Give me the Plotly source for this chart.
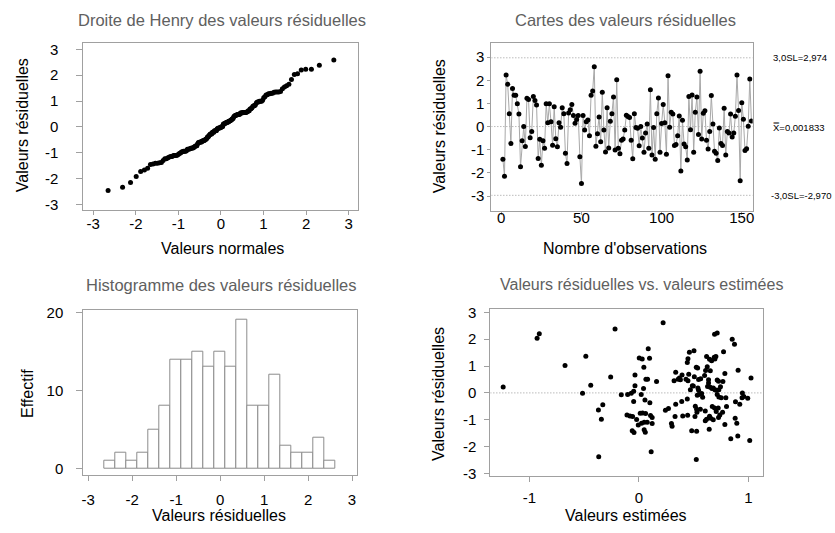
import plotly.graph_objects as go
from statistics import NormalDist

# ---------------- data ----------------
residuals = [
    -1.41, -2.15, 2.23, 1.83, 0.56, -0.73, 1.65, 1.35, 1.35, 0.99,
    0.54, -1.73, -0.61, 0.00, -0.86, 1.23, 1.17, -0.48, -0.21, 1.30,
    1.13, 0.93, -1.38, -0.55, -1.67, -0.61, -0.94, 0.99, 0.17, 0.99,
    0.21, -0.81, 0.86, -0.52, -0.87, 0.17, -0.03, 0.82, 0.56, -1.15,
    -1.60, 0.59, 0.73, 0.96, 0.48, 0.14, 0.31, 0.48, -1.30, -2.46,
    0.48, -0.15, 0.21, 0.28, -0.39, 1.35, 1.54, 2.59, -0.85, -0.31,
    0.42, -0.65, 1.48, -0.15, -1.10, 0.82, -0.92, 0.23, 0.56, 1.28,
    -1.01, 2.03, -0.94, -1.17, -0.59, -0.54, -0.15, 0.49, 0.44, 0.39,
    -0.59, -1.39, 0.56, -0.04, -0.07, -0.83, 0.00, -0.49, -1.11, -0.28,
    0.11, -0.94, 1.59, -1.23, -0.04, -1.41, 0.56, 1.24, -1.11, 0.13,
    0.96, 0.17, -1.20, 2.20, -0.03, 0.62, 0.54, -0.82, -0.77, -0.39,
    0.46, -1.92, 0.27, -0.75, -0.87, -1.44, 1.30, -0.14, 1.37, -1.11,
    0.62, 1.28, -0.34, 2.39, -0.54, 0.58, 0.69, -0.59, -0.97, -0.21,
    1.34, 0.11, -1.07, -1.15, -1.46, -0.06, -0.73, -0.82, 0.79, -1.23,
    -0.21, -0.28, 0.54, -0.45, -0.28, 0.45, 2.23, 0.70, -2.34, 1.03,
    0.32, -1.03, -0.96, 0.01, 2.06, 0.24,
]
observations = list(range(1, len(residuals) + 1))

ucl = 2.974
center = 0.001833
lcl = -2.970

hist_bin_centers = [-2.5, -2.25, -2.0, -1.75, -1.5, -1.25, -1.0, -0.75, -0.5, -0.25,
                    0.0, 0.25, 0.5, 0.75, 1.0, 1.25, 1.5, 1.75, 2.0, 2.25, 2.5]
hist_counts = [1, 2, 1, 2, 5, 8, 14, 14, 15, 13, 15, 13, 19, 8, 8, 12, 3, 2, 2, 4, 1]
hist_bin_width = 0.25

fitted = [
    -1.24, -0.93, -0.91, -0.675, -0.485, -0.44, -0.515, -0.218, -0.258, -0.33,
    -0.37, -0.343, -0.367,
    -0.161, -0.103, -0.070, -0.048, -0.036, -0.036, 0.003, 0.030, 0.085, 0.097,
    0.045, 0.064, 0.079, 0.161, 0.042, 0.021, 0.055, 0.100, -0.048, -0.109,
    -0.082, -0.058, -0.021, -0.006, 0.012, 0.033, 0.061, 0.106, 0.121, 0.024,
    0.048, 0.076, 0.121, -0.061, -0.045, 0.048, 0.058, 0.112, 0.221,
    0.242, 0.270, 0.297, 0.303, 0.330, 0.336, 0.391, 0.400, 0.445, 0.442,
    0.321, 0.358, 0.370, 0.394, 0.379, 0.336, 0.430, 0.448, 0.442, 0.448,
    0.461, 0.503, 0.455, 0.470, 0.488, 0.506, 0.497, 0.524, 0.536, 0.545,
    0.564, 0.539, 0.545, 0.548, 0.573, 0.582, 0.533, 0.515, 0.527, 0.530,
    0.561, 0.606, 0.512, 0.482, 0.527, 0.524, 0.609, 0.600, 0.624, 0.652,
    0.618, 0.645, 0.664, 0.688, 0.703, 0.694, 0.636, 0.636, 0.627, 0.652,
    0.667, 0.679, 0.694, 0.706, 0.730, 0.745, 0.715, 0.727, 0.767, 0.785,
    0.670, 0.691, 0.706, 0.724, 0.645, 0.655, 0.679, 0.727, 0.739, 0.764,
    0.618, 0.606, 0.642, 0.715, 0.730, 0.752, 0.773, 0.794, 0.785, 0.800,
    0.882, 0.921, 0.945, 0.942, 0.958, 0.994, 1.024, 0.906, 0.852, 0.873,
    0.691, 0.715, 0.879, 0.894, 0.903, 0.839, 1.012,
]
fitted_residuals = [
    0.22, 2.03, 2.20, 1.02, 1.36, 0.28, -0.01, 2.38, 0.59, -0.44,
    -0.64, -0.98, -2.38,
    -0.07, -0.06, -0.01, 0.06, 0.27, 0.67, 1.30, 1.26, 1.64, 1.29,
    0.95, 0.51, 0.51, 0.42, 0.16, -0.06, -0.26, -0.37, -0.32, -0.82,
    -0.86, -0.88, -0.99, -1.19, -0.76, -0.75, -0.77, -0.84, -0.92, -1.13,
    -1.09, -1.09, -1.14, -1.41, -1.47, -1.37, -1.46, -2.19, 2.61,
    -0.65, -0.58, -1.14, -1.24, -0.88, -0.42, -0.32, -0.86, -0.83, -0.23,
    0.45, 0.51, 0.55, 0.67, 0.49, 0.77, 0.51, 0.45, 1.13, 1.27,
    1.51, 1.57, 0.69, 0.12, 0.27, 0.60, 0.26, 0.95, 0.93, 0.50,
    0.53, 0.18, 0.10, -0.06, -0.02, -0.16, -0.09, -0.50, -0.61, -0.72,
    -0.61, -0.67, -0.88, -1.41, -1.43, -2.48, 0.83, 0.65, 0.97, 0.82,
    1.35, 1.25, 1.20, 1.33, 1.35, 1.26, 0.49, 0.37, 0.24, 0.21,
    0.16, 0.18, 0.12, 0.10, 0.12, 0.23, 0.48, 0.43, 0.42, 0.72,
    -0.51, -0.56, -0.69, -0.56, -0.87, -0.94, -1.00, -0.92, -0.82, -0.72,
    -0.98, -1.04, -1.35, -0.06, -0.15, -0.18, 1.53, -0.18, -1.18, -0.51,
    -0.33, -0.42, 0.00, -0.18, -0.13, -0.20, 0.55, 0.84, 2.00, 1.81,
    2.18, 2.23, -0.94, -1.13, -1.60, -1.71, -1.77,
]

resid_ticks = [-3, -2, -1, 0, 1, 2, 3]
resid_tick_labels = ["-3", "-2", "-1", "0", "1", "2", "3"]
obs_ticks = [0, 50, 100, 150]
count_ticks = [0, 10, 20]
fit_ticks = [-1, 0, 1]
fit_tick_labels = ["-1", "0", "1"]

# normal scores for the probability plot
sorted_res = sorted(residuals)
n = len(sorted_res)
normal_scores = [NormalDist().inv_cdf((i + 1 - 0.375) / (n + 0.25)) for i in range(n)]

# ---------------- styling ----------------
W, H = 835, 533
FONT = "Arial, Liberation Sans, sans-serif"
FRAME = "#a0a0a0"
TITLE_C = "#606060"
DOT = "1px,2px"


def px_x(x):
    return x / W


def px_y(y):
    return 1 - y / H


def axis(dom, rng, tickvals, ticktext, ticklen, standoff):
    return dict(
        domain=dom, range=rng, tickvals=tickvals, ticktext=ticktext,
        ticks="outside", ticklen=ticklen,
        tickcolor=FRAME, tickwidth=1, showline=True, linecolor=FRAME, linewidth=1,
        mirror=True, showgrid=False, zeroline=False, ticklabelstandoff=standoff,
        tickfont=dict(family=FONT, size=15, color="black"), fixedrange=True,
    )


fig = go.Figure()

# 1: normal probability plot
fig.add_trace(go.Scatter(x=normal_scores, y=sorted_res, mode="markers",
                         marker=dict(color="black", size=5), xaxis="x", yaxis="y"))

# 2: control chart
for val in (ucl, center, lcl):
    fig.add_trace(go.Scatter(x=[-6.2, 156.8], y=[val, val], mode="lines",
                             line=dict(color="#999999", width=1, dash=DOT),
                             xaxis="x2", yaxis="y2", hoverinfo="skip"))
fig.add_trace(go.Scatter(x=observations, y=residuals, mode="lines+markers",
                         line=dict(color="#a8a8a8", width=1),
                         marker=dict(color="black", size=5), xaxis="x2", yaxis="y2"))

# 3: histogram
fig.add_trace(go.Bar(x=hist_bin_centers, y=hist_counts, width=hist_bin_width,
                     marker=dict(color="white", line=dict(color="#8c8c8c", width=1)),
                     xaxis="x3", yaxis="y3"))

# 4: residuals vs fits
fig.add_trace(go.Scatter(x=[-1.357, 1.13], y=[0, 0], mode="lines",
                         line=dict(color="#999999", width=1, dash=DOT),
                         xaxis="x4", yaxis="y4", hoverinfo="skip"))
fig.add_trace(go.Scatter(x=fitted, y=fitted_residuals, mode="markers",
                         marker=dict(color="black", size=5), xaxis="x4", yaxis="y4"))

fig.update_layout(
    width=W, height=H, margin=dict(l=0, r=0, t=0, b=0),
    paper_bgcolor="white", plot_bgcolor="white", showlegend=False,
    bargap=0,
    xaxis=axis([px_x(81.7), px_x(357.3)], [-3.234, 3.21], resid_ticks, resid_tick_labels, 4, -4),
    yaxis=axis([px_y(209), px_y(38.3)], [-3.23, 3.23], resid_ticks, resid_tick_labels, 6, 15),
    xaxis2=axis([px_x(491.7), px_x(754.3)], [-6.2, 156.8], obs_ticks, None, 3, -10),
    yaxis2=axis([px_y(209.3), px_y(37.7)], [-3.63, 3.62], resid_ticks, resid_tick_labels, 3, 0),
    xaxis3=axis([px_x(81.7), px_x(356.7)], [-3.113, 3.113], resid_ticks, resid_tick_labels, 5, 6),
    yaxis3=axis([px_y(480), px_y(310.7)], [-0.83, 20.33], count_ticks, None, 6, 10),
    xaxis4=axis([px_x(490.7), px_x(764.3)], [-1.357, 1.13], fit_ticks, fit_tick_labels, 5, 3),
    yaxis4=axis([px_y(480.7), px_y(310)], [-3.087, 3.12], resid_ticks, resid_tick_labels, 5, 5),
)
fig.layout.xaxis2.anchor = "y2"
fig.layout.yaxis2.anchor = "x2"
fig.layout.xaxis3.anchor = "y3"
fig.layout.yaxis3.anchor = "x3"
fig.layout.xaxis4.anchor = "y4"
fig.layout.yaxis4.anchor = "x4"


def text(x, y, s, size=16, color="black", angle=0, xanchor="center"):
    fig.add_annotation(x=px_x(x), y=px_y(y), xref="paper", yref="paper", text=s,
                       showarrow=False, textangle=angle, xanchor=xanchor, yanchor="middle",
                       font=dict(family=FONT, size=size, color=color))


# titles
text(221, 14, "Droite de Henry des valeurs résiduelles", 16.5, TITLE_C)
text(627, 14, "Cartes des valeurs résiduelles", 16.5, TITLE_C)
text(221, 285, "Histogramme des valeurs résiduelles", 16.5, TITLE_C)
text(643, 285, "Valeurs résiduelles vs. valeurs estimées", 16, TITLE_C)

# axis titles
text(222, 248, "Valeurs normales")
text(626, 248, "Nombre d'observations")
text(218, 521, "Valeurs résiduelles")
text(627, 521, "Valeurs estimées")
text(20, 122, "Valeurs résiduelles", angle=-90)
text(439, 123, "Valeurs résiduelles", angle=-90)
text(25, 396, "Effectif", angle=-90)
text(438, 397, "Valeurs résiduelles", angle=-90)

# control limit labels
text(773, 52.5, "3,0SL=2,974", 9.5, xanchor="left")
text(773, 124, "X̿=0,001833", 9.5, xanchor="left")
text(771, 194, "-3,0SL=-2,970", 9.5, xanchor="left")

fig.write_html("out.html")
